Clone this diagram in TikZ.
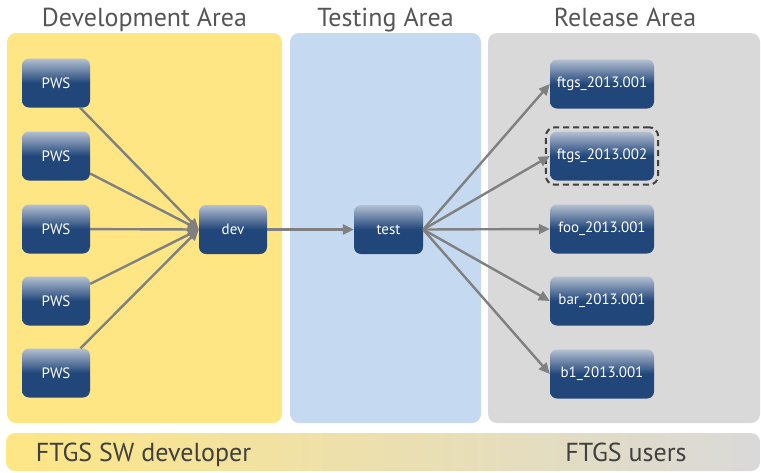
\documentclass[tikz,border=0pt]{standalone}
\usepackage{fontspec}
\setmainfont{PT Sans}
\usetikzlibrary{arrows.meta,fit}
\definecolor{devyel}{HTML}{FEE685}
\definecolor{testblue}{HTML}{C5D9F1}
\definecolor{relgrey}{HTML}{D9D9D9}
\definecolor{nodedark}{HTML}{21467A}
\definecolor{nodelight}{HTML}{B4C0D2}
\definecolor{titlegrey}{HTML}{555555}
\definecolor{bartext}{HTML}{404040}
\definecolor{arrowgrey}{HTML}{808080}
\pgfdeclareverticalshading{nodeshade}{100bp}{color(0bp)=(nodedark); color(25bp)=(nodedark); color(50bp)=(nodedark); color(75bp)=(nodelight); color(100bp)=(nodelight)}
\tikzset{
  panel/.style={rounded corners=9pt, draw=none},
  boxnode/.style={rounded corners=7pt, shading=nodeshade, text=white, inner sep=0pt,
    font=\fontsize{15}{17}\selectfont, minimum height=49pt},
  pws/.style={boxnode, minimum width=68pt},
  rel/.style={boxnode, minimum width=104pt},
  conn/.style={draw=arrowgrey, line width=2.4pt, -{Triangle[length=11pt,width=10pt]}},
  title/.style={font=\fontsize{26}{30}\selectfont, text=titlegrey, anchor=base},
  bartxt/.style={font=\fontsize{26}{30}\selectfont, text=bartext, anchor=base},
}
\begin{document}
\begin{tikzpicture}[x=1pt,y=-1pt]
\useasboundingbox (0,0) rectangle (761,472);
% panels
\fill[panel, devyel] (7,33) rectangle (282,423);
\fill[panel, testblue] (290,33) rectangle (481,423);
\fill[panel, relgrey] (488,33) rectangle (760,423);
\shade[panel, left color=devyel, right color=relgrey] (6,433) rectangle (760,471);
% titles
\node[title] (t1) at (144.5,26) {Development Area};
\node[title] (t2) at (385.5,26) {Testing Area};
\node[title] (t3) at (625,26) {Release Area};
\node[bartxt] (b1) at (143.5,461) {FTGS SW developer};
\node[bartxt] (b2) at (626,461) {FTGS users};
% nodes
\node[pws] (p1) at (56,83) {PWS};
\node[pws] (p2) at (56,156) {PWS};
\node[pws] (p3) at (56,229) {PWS};
\node[pws] (p4) at (56,301) {PWS};
\node[pws] (p5) at (56,373) {PWS};
\node[pws] (dev) at (233,229.5) {dev};
\node[pws, minimum width=69pt] (test) at (388.5,229.5) {test};
\node[rel] (r1) at (602,84) {ftgs\_2013.001};
\node[rel] (r2) at (602,156) {ftgs\_2013.002};
\node[rel] (r3) at (602,229) {foo\_2013.001};
\node[rel] (r4) at (602,301) {bar\_2013.001};
\node[rel] (r5) at (602,374) {b1\_2013.001};
\node[fit=(r2), inner sep=4pt, draw=bartext, dashed, dash pattern=on 6pt off 4pt, line width=2pt, rounded corners=9pt] (sel) {};
% connectors
\foreach \p in {p1,p2,p3,p4,p5} \draw[conn] (\p) -- (dev.west);
\draw[conn] (dev) -- (test);
\foreach \r in {r1,r2,r3,r4,r5} \draw[conn] (test.east) -- (\r.west);
\end{tikzpicture}
\end{document}
